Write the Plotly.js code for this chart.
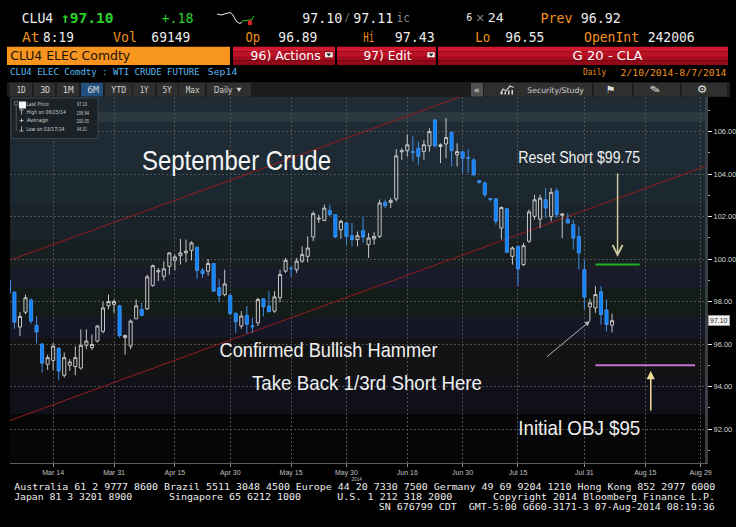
<!DOCTYPE html>
<html><head><meta charset="utf-8">
<script src="https://cdn.plot.ly/plotly-3.0.1.min.js"></script>
<style>html,body{margin:0;padding:0;background:#000;overflow:hidden}#chart{width:736px;height:527px}</style>
</head><body><div id="chart"></div>
<script>
// ---------------- DATA ----------------
const dates = [
"2014-03-04","2014-03-05","2014-03-06","2014-03-07","2014-03-10","2014-03-11","2014-03-12","2014-03-13","2014-03-14","2014-03-17",
"2014-03-18","2014-03-19","2014-03-20","2014-03-21","2014-03-24","2014-03-25","2014-03-26","2014-03-27","2014-03-28","2014-03-31",
"2014-04-01","2014-04-02","2014-04-03","2014-04-04","2014-04-07","2014-04-08","2014-04-09","2014-04-10","2014-04-11","2014-04-14",
"2014-04-15","2014-04-16","2014-04-17","2014-04-21","2014-04-22","2014-04-23","2014-04-24","2014-04-25","2014-04-28","2014-04-29",
"2014-04-30","2014-05-01","2014-05-02","2014-05-05","2014-05-06","2014-05-07","2014-05-08","2014-05-09","2014-05-12","2014-05-13",
"2014-05-14","2014-05-15","2014-05-16","2014-05-19","2014-05-20","2014-05-21","2014-05-22","2014-05-23","2014-05-27","2014-05-28",
"2014-05-29","2014-05-30","2014-06-02","2014-06-03","2014-06-04","2014-06-05","2014-06-06","2014-06-09","2014-06-10","2014-06-11",
"2014-06-12","2014-06-13","2014-06-16","2014-06-17","2014-06-18","2014-06-19","2014-06-20","2014-06-23","2014-06-24","2014-06-25",
"2014-06-26","2014-06-27","2014-06-30","2014-07-01","2014-07-02","2014-07-03","2014-07-07","2014-07-08","2014-07-09","2014-07-10",
"2014-07-11","2014-07-14","2014-07-15","2014-07-16","2014-07-17","2014-07-18","2014-07-21","2014-07-22","2014-07-23","2014-07-24",
"2014-07-25","2014-07-28","2014-07-29","2014-07-30","2014-07-31","2014-08-01","2014-08-04","2014-08-05","2014-08-06","2014-08-07"];
const open = [
99.00,98.44,96.80,97.50,98.07,96.88,96.00,95.05,95.23,95.80,
94.53,95.00,94.94,94.87,95.94,95.83,96.14,96.60,97.80,97.87,
97.80,96.30,95.90,97.19,97.63,97.66,98.76,99.40,99.19,99.66,
99.94,100.16,100.29,100.41,100.55,99.47,99.43,99.79,98.65,98.33,
98.29,97.44,96.85,97.35,96.86,97.00,98.13,97.79,97.55,98.18,
99.43,99.57,99.50,99.90,100.13,101.04,101.88,101.82,102.29,102.09,
101.38,101.70,101.10,100.92,101.34,100.68,100.95,101.07,102.67,102.67,
102.83,105.05,105.10,105.06,105.22,105.06,105.33,106.55,105.30,105.42,
105.96,104.91,105.05,104.78,104.67,103.69,103.58,102.85,102.83,101.46,
102.37,100.13,100.60,99.74,100.84,102.01,101.88,102.79,102.00,103.21,
102.06,101.88,101.62,101.07,99.50,97.75,97.70,98.46,97.60,96.89];
const high = [
99.10,98.50,97.50,98.33,98.15,97.30,96.05,95.50,96.05,95.85,
95.60,95.30,95.90,96.69,96.69,96.45,96.90,98.00,98.33,98.10,
97.85,96.45,97.16,98.10,97.94,99.27,99.74,99.58,99.90,100.32,
100.21,100.95,100.92,100.84,100.60,99.58,100.00,99.82,99.07,99.50,
98.35,97.50,97.55,97.79,97.24,98.18,98.15,98.49,98.49,99.50,
100.05,99.66,100.05,100.60,101.07,102.25,102.09,102.56,102.56,102.09,
101.85,101.70,101.70,101.30,102.00,101.23,101.26,102.80,102.80,102.87,
105.17,105.22,105.85,105.77,105.53,105.60,106.16,106.60,105.45,106.64,
106.00,105.45,105.06,105.17,104.75,103.73,103.66,102.87,102.87,102.48,
102.40,100.60,100.63,100.76,102.33,103.03,103.03,103.34,103.34,103.34,
102.17,102.17,101.85,101.54,99.97,98.13,98.72,98.72,98.10,97.43];
const low = [
98.30,96.72,96.38,97.40,96.95,96.03,94.66,94.78,94.78,94.31,
94.42,94.73,94.53,94.80,95.75,95.72,96.07,96.50,97.63,97.47,
96.30,95.50,95.75,97.17,97.30,97.60,98.69,98.96,98.99,99.27,
99.47,99.74,99.85,99.94,99.07,99.11,99.22,98.45,97.97,98.25,
97.35,96.53,96.72,96.50,96.53,96.85,97.30,97.50,97.47,97.97,
99.35,99.16,99.35,99.82,99.85,100.84,101.70,101.78,102.01,100.99,
100.95,100.68,100.60,100.60,100.76,100.05,100.68,100.99,102.40,102.40,
102.72,104.67,104.83,104.60,104.44,104.67,105.06,105.27,104.52,104.75,
104.36,104.36,104.05,104.05,103.90,103.55,102.92,102.72,101.62,100.92,
100.28,99.74,98.73,99.67,100.76,101.86,101.46,101.93,101.77,101.93,
100.99,101.70,100.44,99.50,97.63,97.08,97.47,96.92,96.60,96.55];
const close = [
98.41,97.03,97.30,98.18,97.08,96.57,95.10,95.36,95.90,94.73,
95.36,95.16,95.36,95.94,96.14,95.98,96.85,97.70,98.00,98.00,
96.40,96.40,97.08,97.80,97.35,99.16,99.69,99.45,99.54,100.29,
100.10,100.29,100.37,100.76,99.47,99.32,99.79,98.49,98.29,98.83,
97.44,97.05,97.32,96.93,96.82,98.10,97.75,97.52,98.22,99.27,
99.94,99.55,99.90,100.21,100.52,102.14,101.92,102.40,102.09,101.04,
101.78,101.07,100.92,101.10,101.04,100.99,101.07,102.64,102.51,102.76,
104.86,105.10,105.38,105.02,104.83,105.38,106.00,105.33,105.38,105.72,
105.11,105.06,104.75,104.75,103.97,103.61,103.03,102.81,101.78,102.43,
100.32,100.52,99.54,100.63,102.22,102.79,102.87,102.40,103.14,102.09,
102.12,101.70,100.99,100.29,98.21,97.94,98.33,97.39,96.92,97.10];
const futureDates = ["2014-08-08","2014-08-11","2014-08-12","2014-08-13","2014-08-14","2014-08-15",
"2014-08-18","2014-08-19","2014-08-20","2014-08-21","2014-08-22","2014-08-25","2014-08-26","2014-08-27",
"2014-08-28","2014-08-29","2014-09-02","2014-09-03"];
const tickDates = ["2014-03-14","2014-03-31","2014-04-15","2014-04-30","2014-05-15","2014-05-30",
"2014-06-16","2014-06-30","2014-07-15","2014-07-31","2014-08-15","2014-08-29"];
const tickLabels = ["Mar 14","Mar 31","Apr 15","Apr 30","May 15","May 30","Jun 16","Jun 30","Jul 15","Jul 31","Aug 15","Aug 29"];
const priceTicks = [92,94,96,98,100,102,104,106];
const averagePrice = 100.05;
const resetShort = 99.75;
const initialObj = 95;
const resetLineDates = ["2014-08-04","2014-08-14"];
const objLineDates = ["2014-08-04","2014-08-28"];
const upperChannelDates = ["2014-03-04","2014-06-30"];
const upperChannelPrices = [99.93,107.68];
const lowerChannelDates = ["2014-03-04","2014-09-02"];
const lowerChannelPrices = [92.38,104.38];

// ---------------- HELPERS ----------------
const L = 10, R = 705, TOP = 97, BOT = 463;
const px = x => (x - L) / (R - L);
const py = y => (BOT - y) / (BOT - TOP);
const MONO = '"DejaVu Sans Mono", "Liberation Mono", monospace';
const NARROW = '"Liberation Sans Narrow", "Liberation Sans", Arial, sans-serif';
const SANS = '"DejaVu Sans", "Liberation Sans", sans-serif';
const ORANGE = '#f0921e', GREEN = '#2bd12b', WHITE = '#ededed', GREY = '#8a8a8a';

const shapes = [];
const annotations = [];
const annWidths = [];
function rect(x0, y0, x1, y1, fill, layer, line) {
  shapes.push({type:'rect', xref:'paper', yref:'paper', x0:px(x0), x1:px(x1), y0:py(y1), y1:py(y0),
    fillcolor:fill, line: line || {width:0}, layer: layer || 'above'});
}
function pathPx(pts, color, width, fill) {
  let d = pts.map((p, i) => (i ? 'L' : 'M') + px(p[0]).toFixed(5) + ',' + py(p[1]).toFixed(5)).join(' ');
  if (fill) d += ' Z';
  shapes.push({type:'path', xref:'paper', yref:'paper', path:d, line:{color, width: width || 1},
    fillcolor: fill || 'rgba(0,0,0,0)', layer:'above'});
}
function txt(text, xl, xr, yc, size, color, family, weight) {
  const font = {size, color, family: family || MONO};
  if (weight) font.weight = weight;
  annotations.push({text, xref:'paper', yref:'paper', x:px((xl + xr) / 2), y:py(yc),
    xanchor:'center', yanchor:'middle', showarrow:false, borderpad:0, font});
  annWidths.push(xr - xl);
}
function arrow(x, y, ax, ay, color, head, size, width) {
  annotations.push({text:'', xref:'x', yref:'y', x, y, ax, ay, axref:'pixel', ayref:'pixel',
    showarrow:true, arrowhead:head, arrowsize:size, arrowwidth:width, arrowcolor:color, standoff:0});
  annWidths.push(0);
}

// ---------------- BACKGROUND BANDS ----------------
[[97,112,'#1f2c35'],[112,122,'#2c3840'],[122,170,'#1e2b34'],[170,205,'#1c2830'],[205,240,'#1a2329'],
 [240,268,'#171f20'],[268,288,'#1a1b2a'],[288,318,'#141c19'],[318,338,'#161726'],[338,378,'#131314'],
 [378,414,'#0f1018'],[414,463,'#060606']].forEach(b => rect(L, b[0], R, b[1], b[2], 'below'));

// channel lines
shapes.push({type:'line', xref:'x', yref:'y', x0:upperChannelDates[0], x1:upperChannelDates[1],
  y0:upperChannelPrices[0], y1:upperChannelPrices[1], line:{color:'#951c1c', width:1}, layer:'between'});
shapes.push({type:'line', xref:'x', yref:'y', x0:lowerChannelDates[0], x1:lowerChannelDates[1],
  y0:lowerChannelPrices[0], y1:lowerChannelPrices[1], line:{color:'#951c1c', width:1}, layer:'between'});
// level lines
shapes.push({type:'line', xref:'x', yref:'y', x0:resetLineDates[0], x1:resetLineDates[1],
  y0:resetShort, y1:resetShort, line:{color:'#22b022', width:2}, layer:'above'});
shapes.push({type:'line', xref:'x', yref:'y', x0:objLineDates[0], x1:objLineDates[1],
  y0:initialObj, y1:initialObj, line:{color:'#c472d2', width:2}, layer:'above'});

// ---------------- HEADER ----------------
const HS = 14.5;
// row 1
txt('CLU4', 21.7, 53.3, 17.8, HS, WHITE);
txt('↑97.10', 60.5, 113, 17.8, HS, GREEN, MONO, 'bold');
txt('+.18', 161, 193, 17.8, HS, GREEN);
pathPx([[217,14],[221,15],[226,13.5],[230,12.5],[233,15],[235,19],[237,22],[240,23.5],[242,22]], '#f0f0f0', 1);
pathPx([[242,21],[247,20.5],[252,19.5],[254,16]], '#2bd12b', 1);
rect(248, 20.5, 252, 25, '#e02020');
txt('97.10', 302, 342, 17.8, 13.5, WHITE);
txt('/', 345, 350.5, 17.8, 11, GREY);
txt('97.11', 353, 393, 17.8, 13.5, WHITE);
txt('ic', 396.5, 410, 17.8, 12, GREY);
txt('6', 466, 472, 17.8, 11, WHITE);
txt('x', 476, 484, 17.8, 11, GREY);
txt('24', 488, 504, 17.8, 13, WHITE);
txt('Prev', 540, 572, 17.8, HS, ORANGE);
txt('96.92', 581, 621, 17.8, HS, WHITE);
// row 2
txt('At', 21.7, 39.3, 36.7, HS, ORANGE);
txt('8:19', 43.3, 74, 36.7, HS, WHITE);
txt('Vol', 113, 137, 36.7, HS, ORANGE);
txt('69149', 151.7, 190.7, 36.7, HS, WHITE);
txt('Op', 245, 259.5, 36.7, HS, ORANGE);
txt('96.89', 278.3, 317.3, 36.7, HS, WHITE);
txt('Hi', 362.7, 373.5, 36.7, HS, ORANGE);
txt('97.43', 395, 435, 36.7, HS, WHITE);
txt('Lo', 475, 490, 36.7, HS, ORANGE);
txt('96.55', 505, 544, 36.7, HS, WHITE);
txt('OpenInt', 584, 639, 36.7, HS, ORANGE);
txt('242006', 647, 694, 36.7, HS, WHITE);
// row 3 bars
rect(7, 46.7, 230, 65, '#f7951f');
txt('CLU4 ELEC Comdty', 10, 130, 55.8, 12.5, '#1a1209', SANS);
[[233,335],[337,436],[438,728]].forEach(s => {
  rect(s[0], 46.7, s[1], 51.3, '#cf1a30');
  rect(s[0], 51.3, s[1], 55.9, '#bb1226');
  rect(s[0], 55.9, s[1], 60.5, '#a70d1f');
  rect(s[0], 60.5, s[1], 65, '#920a19');
});
txt('96) Actions', 250, 320, 55, 13, '#ffffff', SANS);
rect(325, 52.3, 332.7, 57.3, '#f4f4f4');
pathPx([[326.8,53.8],[330.8,53.8],[328.8,56.2]], '#222', 0.5, '#222');
txt('97) Edit', 363, 411, 55, 13, '#ffffff', SANS);
rect(427.3, 52.3, 434.7, 57.3, '#f4f4f4');
pathPx([[429.1,53.8],[433.1,53.8],[431.1,56.2]], '#222', 0.5, '#222');
txt('G 20 - CLA', 572, 642, 55, 13, '#ffffff', SANS);
// row 4
txt('CLU4 ELEC Comdty : WTI CRUDE FUTURE', 10, 199.5, 72.2, 9, '#5ab8ec');
txt('Sep14', 208, 237.5, 72.2, 9, '#5ab8ec');
txt('Daily', 583, 606, 72.2, 9, ORANGE);
txt('2/10/2014-8/7/2014', 620, 726, 72.2, 9.5, ORANGE);
// row 5 toolbar
rect(7, 82, 730, 97, '#1c1c1c');
const btns = [[10,32,'1D',16.7,26],[34,55,'3D',40,50],[57,79,'1M',62.7,74],[81,103,'6M',86.7,98.7],
  [105,132,'YTD',111,126],[133,155,'1Y',139.3,148.3],[157,178,'5Y',162.3,171.7],[179,205,'Max',185.3,199.3]];
btns.forEach(b => {
  rect(b[0], 83, b[1], 96.5, b[2] === '6M' ? '#21507f' : '#2f2f2f');
  txt(b[2], b[3], b[4], 90.2, 8.5, '#d2d2d2');
});
rect(207, 83, 251, 96.5, '#2f2f2f');
txt('Daily', 214, 232.7, 90.2, 8, '#d2d2d2', SANS);
pathPx([[236.8,88],[241.2,88],[239,91.5]], '#d2d2d2', 0.5, '#d2d2d2');
rect(471, 83, 483, 96.5, '#505050');
txt('«', 473.5, 479.5, 89.5, 9, '#e0e0e0', SANS);
[[484,592],[594,632],[634,680],[682,727]].forEach(s => rect(s[0], 83, s[1], 96.5, '#2f2f2f'));
pathPx([[500.5,93.5],[503,89],[506,91],[510,86],[513.5,87.5]], '#d8d8d8', 1.2);
rect(501, 91.5, 502.5, 94.5, '#d8d8d8'); rect(504.5, 92, 506, 94.5, '#d8d8d8'); rect(508, 90.5, 509.5, 94.5, '#d8d8d8'); rect(511.5, 90, 513, 94.5, '#d8d8d8');
txt('Security/Study', 528, 584.7, 90, 7.8, '#cfcfcf', SANS);
txt('⚑', 605, 615, 89.8, 10, '#dddddd', SANS);
txt('✎', 649, 661, 89.8, 10, '#dddddd', SANS);
txt('⚙', 696.5, 707.5, 89.8, 11, '#dddddd', SANS);

// ---------------- LEGEND BOX ----------------
rect(11, 98, 98, 138.5, '#1a2127', 'above', {color:'#3b434a', width:1});
rect(14.5, 101.5, 18, 105, 'rgba(0,0,0,0)', 'above', {color:'#9a9a9a', width:0.6});
rect(19, 101.5, 26, 108.5, '#f4f4f4');
pathPx([[16.2,106],[16.2,131]], '#777', 0.6);
pathPx([[19.5,109.8],[23.5,109.8]], '#c9c9c9', 0.8); pathPx([[21.5,109.8],[21.5,114.5]], '#c9c9c9', 0.8);
pathPx([[19.5,120.5],[23.5,120.5]], '#c9c9c9', 0.8); pathPx([[21.5,118.5],[21.5,122.5]], '#c9c9c9', 0.8);
pathPx([[21.5,126.5],[21.5,131]], '#c9c9c9', 0.8); pathPx([[19.5,131],[23.5,131]], '#c9c9c9', 0.8);
const iMax = high.indexOf(Math.max(...high));
const iMin = low.indexOf(Math.min(...low));
const mdy = s => s.slice(5,7) + '/' + s.slice(8,10) + '/' + s.slice(2,4);
const LG = '#cdcdcd', LS = 5.6;
txt('Last Price', 26.7, 49.3, 104.5, LS, LG, SANS);
txt(close[close.length - 1].toFixed(2), 77.3, 87.3, 104.5, LS, LG, SANS);
txt('High on ' + mdy(dates[iMax]), 26.7, 66, 112.5, LS, LG, SANS);
txt(high[iMax].toFixed(2), 76.7, 89.3, 112.5, LS, LG, SANS);
txt('Average', 26.7, 48.3, 120.7, LS, LG, SANS);
txt(averagePrice.toFixed(2), 76.7, 89.3, 120.7, LS, LG, SANS);
txt('Low on ' + mdy(dates[iMin]), 26.7, 65, 128.8, LS, LG, SANS);
txt(low[iMin].toFixed(2), 77.3, 87.3, 128.8, LS, LG, SANS);

// ---------------- CHART TEXT ----------------
txt('September Crude', 142, 331, 160.7, 28, '#f4f4f4', NARROW);
txt('Reset Short $' + resetShort.toFixed(2), 518, 640, 157, 17, '#f0f0f0', NARROW);
txt('Confirmed Bullish Hammer', 219, 437, 349.8, 20.5, '#f0f0f0', NARROW);
txt('Take Back 1/3rd Short Here', 252, 482, 382.5, 21, '#f0f0f0', NARROW);
txt('Initial OBJ $' + initialObj, 518, 640, 427.8, 21, '#f0f0f0', NARROW);
arrow(futureDates[0], resetShort + 0.35, 0, -85, '#cbc5a2', 5, 1.3, 1.5);
arrow(futureDates[6], initialObj - 0.27, 0, 41, '#f2dc9a', 2, 1.1, 1.5);
arrow(dates[105], low[105], -44.6, 37, '#b5b5b5', 2, 1, 1);
txt('2014', 351.5, 362, 479, 6, '#bdbdbd', NARROW);

// last price tag
annotations.push({text: close[close.length - 1].toFixed(2), xref:'paper', yref:'y', x:px(707.5), y:close[close.length - 1],
  xanchor:'left', yanchor:'middle', showarrow:false, bgcolor:'#f2f2f2', bordercolor:'#9a9a9a', borderwidth:1, borderpad:1,
  font:{size:7, color:'#222', family:NARROW}});
annWidths.push(0);

// ---------------- FOOTER ----------------
const FT = '#ececec', FS = 8;
txt('Australia 61 2 9777 8600 Brazil 5511 3048 4500 Europe 44 20 7330 7500 Germany 49 69 9204 1210 Hong Kong 852 2977 6000', 14, 715, 487.8, FS, FT);
txt('Japan 81 3 3201 8900', 14, 132, 497.5, FS, FT);
txt('Singapore 65 6212 1000', 169, 301, 497.5, FS, FT);
txt('U.S. 1 212 318 2000', 337, 452, 497.5, FS, FT);
txt('Copyright 2014 Bloomberg Finance L.P.', 493, 715, 497.5, FS, FT);
txt('SN 676799 CDT  GMT-5:00 G660-3171-3 07-Aug-2014 08:19:36', 379, 715, 507.3, FS, FT);

// ---------------- TRACES ----------------
const traces = [
  {type:'candlestick', x:dates, open, high, low, close, whiskerwidth:0, hoverinfo:'skip',
   increasing:{line:{color:'#c6c6c6', width:1}, fillcolor:'rgba(0,0,0,0)'},
   decreasing:{line:{color:'#3d8ee6', width:1}, fillcolor:'#0d84ff'}, showlegend:false},
  {type:'scatter', mode:'markers', x:futureDates, y:futureDates.map(() => null), hoverinfo:'skip', showlegend:false}
];

const allDates = dates.concat(futureDates);
const layout = {
  width:736, height:527,
  margin:{l:L, r:736 - R, t:TOP, b:527 - BOT, pad:0},
  paper_bgcolor:'#000', plot_bgcolor:'#000',
  showlegend:false, boxgap:0.2,
  xaxis:{type:'category', categoryorder:'array', categoryarray:allDates, range:[0.2, 125.8],
    tickmode:'array', tickvals:tickDates, ticktext:tickLabels, showgrid:true, gridcolor:'#4c5156',
    griddash:'2px,2px', gridwidth:1, ticks:'outside', ticklen:3, tickcolor:'#8a8a8a',
    showline:true, linecolor:'#5c5c5c', linewidth:1, zeroline:false,
    tickfont:{size:7, color:'#c0c0c0', family:NARROW}, rangeslider:{visible:false}, fixedrange:true},
  yaxis:{side:'right', range:[90.4, 107.63], tickmode:'array', tickvals:priceTicks, tickformat:'.2f',
    showgrid:true, gridcolor:'#4c5156', griddash:'2px,2px', gridwidth:1, ticks:'outside', ticklen:4,
    tickcolor:'#e6e6e6', tickwidth:1, showline:true, linecolor:'#3a3f44', linewidth:3, zeroline:false,
    minor:{dtick:1, ticks:'outside', ticklen:2, tickcolor:'#9a9a9a', showgrid:false},
    tickfont:{size:7.5, color:'#d6d6d6', family:NARROW}, fixedrange:true},
  shapes, annotations
};

const gd = document.getElementById('chart');
Plotly.newPlot(gd, traces, layout, {staticPlot:true, displayModeBar:false}).then(function () {
  gd.querySelectorAll('g.annotation').forEach(function (grp) {
    const i = +grp.getAttribute('data-index');
    const w = annWidths[i];
    if (!w) return;
    const t = grp.querySelector('text.annotation-text');
    if (t) { t.setAttribute('textLength', w); t.setAttribute('lengthAdjust', 'spacingAndGlyphs'); }
  });
});
</script>
</body></html>
